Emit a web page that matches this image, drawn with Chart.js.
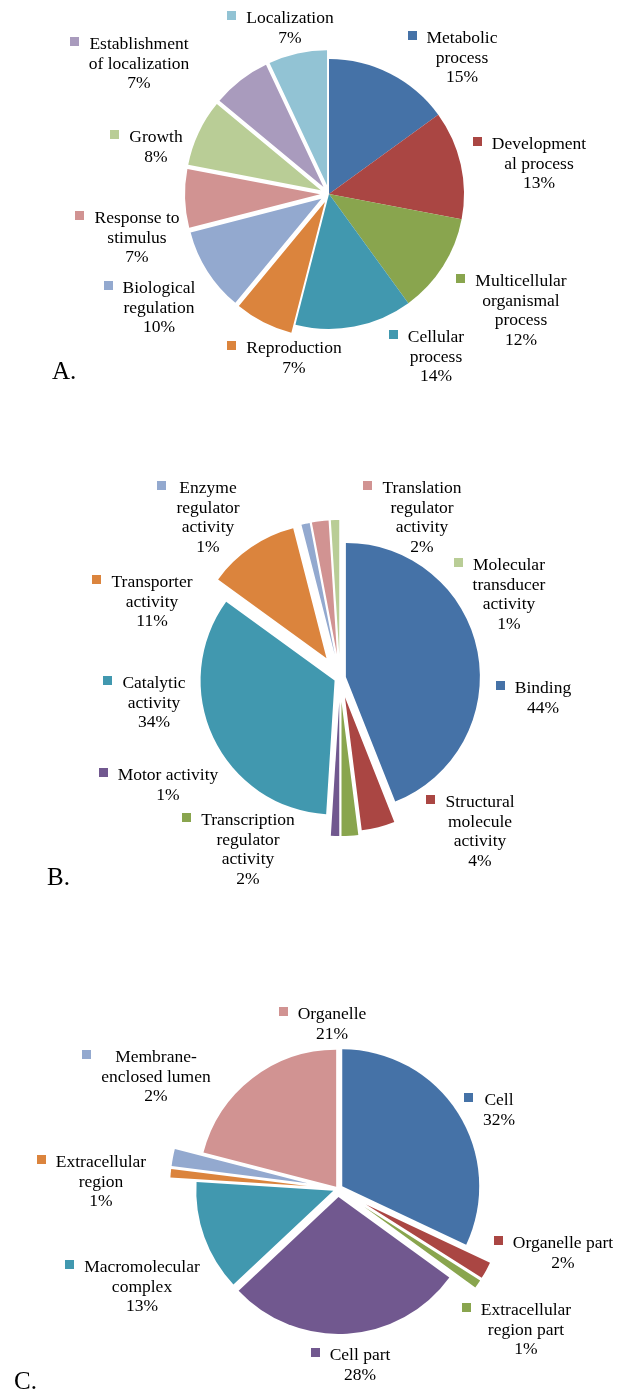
<!DOCTYPE html>
<html>
<head>
<meta charset="utf-8">
<script src="https://cdn.jsdelivr.net/npm/chart.js@4.4.1/dist/chart.umd.min.js"></script>
<style>
    html, body { margin: 0; padding: 0; background: #fff; }
    #page { position: relative; width: 617px; height: 1393px; overflow: hidden; }
    canvas { position: absolute; left: 0; }
</style>
</head>
<body>
<div id="page">
    <canvas id="chartA" width="617" height="420" style="top:0px"></canvas>
    <canvas id="chartB" width="617" height="480" style="top:420px"></canvas>
    <canvas id="chartC" width="617" height="493" style="top:900px"></canvas>
</div>
<script>
// A. Biological process (line breaks as in the original labels)
const categoriesA = ['Metabolic\nprocess', 'Development\nal process', 'Multicellular\norganismal\nprocess', 'Cellular\nprocess',
    'Reproduction', 'Biological\nregulation', 'Response to\nstimulus', 'Growth', 'Establishment\nof localization', 'Localization'];
const valuesA = [15, 13, 12, 14, 7, 10, 7, 8, 7, 7];

// B. Molecular function
const categoriesB = ['Binding', 'Structural\nmolecule\nactivity', 'Transcription\nregulator\nactivity', 'Motor activity',
    'Catalytic\nactivity', 'Transporter\nactivity', 'Enzyme\nregulator\nactivity', 'Translation\nregulator\nactivity',
    'Molecular\ntransducer\nactivity'];
const valuesB = [44, 4, 2, 1, 34, 11, 1, 2, 1];

// C. Cellular component
const categoriesC = ['Cell', 'Organelle part', 'Extracellular\nregion part', 'Cell part', 'Macromolecular\ncomplex',
    'Extracellular\nregion', 'Membrane-\nenclosed lumen', 'Organelle'];
const valuesC = [32, 2, 1, 28, 13, 1, 2, 21];

// Excel 2007 palette
const BLUE = '#4572A7', RED = '#AA4643', GREEN = '#89A54E', PURPLE = '#71588F', TEAL = '#4198AF', ORANGE = '#DB843D';
const LBLUE = '#93A9CF', PINK = '#D19392', LGREEN = '#B9CD96', LPURPLE = '#A99BBD', LTEAL = '#92C3D4';

const colorsA = [BLUE, RED, GREEN, TEAL, ORANGE, LBLUE, PINK, LGREEN, LPURPLE, LTEAL];
const colorsB = [BLUE, RED, GREEN, PURPLE, TEAL, ORANGE, LBLUE, PINK, LGREEN];
const colorsC = [BLUE, RED, GREEN, PURPLE, TEAL, ORANGE, LBLUE, PINK];

// Explosion of each slice (px)
const explodeA = [0, 0, 0, 0, 9, 9, 9, 9, 9, 9];
const explodeB = [6, 20, 24, 24, 6, 24, 24, 24, 24];
const explodeC = [5, 32, 32, 8, 5, 31, 31, 3];

// Label block: centre x and first baseline, relative to the pie centre
const labelPosA = [[133, -151], [210, -45], [192, 92], [107, 148], [-35, 159], [-170, 99], [-192, 29], [-173, -52], [-190, -145], [-39, -171]];
const labelPosB = [[203, 15], [140, 129], [-92, 147], [-172, 102], [-186, 10], [-188, -91], [-132, -185], [82, -185], [169, -108]];
const labelPosC = [[161, -84], [225, 59], [188, 126], [22, 171], [-196, 83], [-237, -22], [-182, -127], [-6, -170]];

const FONT_SIZE = 17.5;
const LINE_H = 19.7;
const FONT_FAMILY = '"Liberation Serif", "Times New Roman", serif';

// Draws the slices pulled out along their middle angle
const explodedSlices = {
    id: 'explodedSlices',
    beforeDatasetsDraw(chart, args, opts) {
        const ctx = chart.ctx;
        const meta = chart.getDatasetMeta(0);
        meta.data.forEach((arc, i) => {
            const mid = (arc.startAngle + arc.endAngle) / 2;
            const d = opts.explode[i] || 0;
            ctx.save();
            ctx.translate(Math.cos(mid) * d, Math.sin(mid) * d);
            arc.draw(ctx);
            ctx.restore();
        });
        return false;
    }
};

// Draws the data labels with their colour key, and the panel letter
const sliceLabels = {
    id: 'sliceLabels',
    afterDraw(chart, args, opts) {
        const ctx = chart.ctx;
        const meta = chart.getDatasetMeta(0);
        const dataset = chart.data.datasets[0];
        const total = dataset.data.reduce((a, b) => a + b, 0);

        ctx.save();
        ctx.font = FONT_SIZE + 'px ' + FONT_FAMILY;
        ctx.textBaseline = 'alphabetic';
        meta.data.forEach((arc, i) => {
            const lines = chart.data.labels[i].split('\n');
            lines.push(Math.round(dataset.data[i] / total * 100) + '%');
            const x = arc.x + opts.positions[i][0];
            const y = arc.y + opts.positions[i][1];

            let maxW = 0;
            ctx.fillStyle = '#000';
            ctx.textAlign = 'center';
            lines.forEach((line, k) => {
                ctx.fillText(line, x, y + k * LINE_H);
                maxW = Math.max(maxW, ctx.measureText(line).width);
            });

            // colour key left of the first line
            ctx.fillStyle = dataset.backgroundColor[i];
            ctx.fillRect(Math.round(x - maxW / 2 - 10 - 9), Math.round(y - 12), 9, 9);
        });

        ctx.fillStyle = '#000';
        ctx.textAlign = 'left';
        ctx.font = '25px ' + FONT_FAMILY;
        ctx.fillText(opts.letter, opts.letterPos[0], opts.letterPos[1]);
        ctx.restore();
    }
};

// Creates one pie panel
function createPie(cfg) {
    const canvas = document.getElementById(cfg.canvas);
    const w = canvas.width;
    const h = canvas.height;
    const s = cfg.radius + 5;

    return new Chart(canvas, {
        type: 'pie',
        data: {
            labels: cfg.labels,
            datasets: [{
                data: cfg.values,
                backgroundColor: cfg.colors,
                borderWidth: 0,
                radius: cfg.radius,
                clip: false
            }]
        },
        options: {
            responsive: false,
            animation: false,
            events: [],
            layout: {
                padding: {
                    left: cfg.center[0] - s,
                    right: w - cfg.center[0] - s,
                    top: cfg.center[1] - s,
                    bottom: h - cfg.center[1] - s
                }
            },
            plugins: {
                legend: { display: false },
                tooltip: { enabled: false },
                explodedSlices: { explode: cfg.explode },
                sliceLabels: { positions: cfg.labelPos, letter: cfg.letter, letterPos: cfg.letterPos }
            }
        },
        plugins: [explodedSlices, sliceLabels]
    });
}

createPie({
    canvas: 'chartA', labels: categoriesA, values: valuesA, colors: colorsA, explode: explodeA,
    labelPos: labelPosA, center: [329, 194], radius: 135, letter: 'A.', letterPos: [52, 379]
});
createPie({
    canvas: 'chartB', labels: categoriesB, values: valuesB, colors: colorsB, explode: explodeB,
    labelPos: labelPosB, center: [340, 258], radius: 134, letter: 'B.', letterPos: [47, 465]
});
createPie({
    canvas: 'chartC', labels: categoriesC, values: valuesC, colors: colorsC, explode: explodeC,
    labelPos: labelPosC, center: [338, 289], radius: 137, letter: 'C.', letterPos: [14, 489]
});
</script>
</body>
</html>
